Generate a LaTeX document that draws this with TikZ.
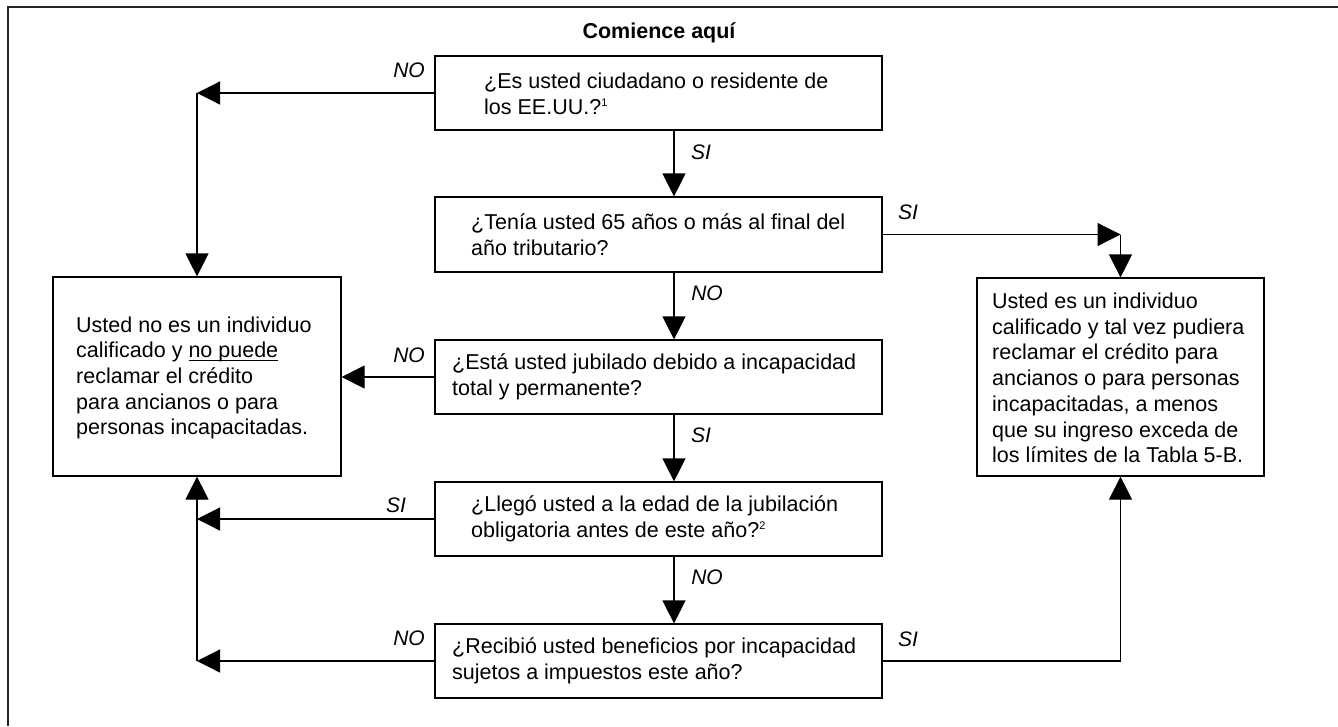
\documentclass[tikz,border=0pt]{standalone}
\usepackage{fontspec}
\setmainfont{Liberation Sans}
\usetikzlibrary{arrows.meta}
\newcommand\myul[1]{\setbox0\hbox{#1}\rlap{\rule[-3.5pt]{\wd0}{1.3pt}}\box0}
\newcommand\mysup[1]{\raisebox{8pt}{\fontsize{11}{11}\selectfont #1}}
\begin{document}
\begin{tikzpicture}[x=1pt,y=-1pt,
  qbox/.style={draw=black, line width=1.2pt, minimum width=447pt, minimum height=74pt, inner sep=0pt},
  endbox/.style={draw=black, line width=1.2pt, minimum width=288pt, minimum height=199pt, inner sep=0pt},
  txt/.style={font=\fontsize{21.5}{25.7}\selectfont, align=left, inner sep=0pt, anchor=west},
  lbl/.style={font=\fontsize{21}{25}\selectfont\itshape, inner sep=0pt},
  conn/.style={line width=1.2pt},
  arr/.style={conn, -{Triangle[length=23pt,width=23pt]}}]
\useasboundingbox (0,0) rectangle (1338,726);
% frame
\draw[line width=1.5pt, black!85] (1338,7) -- (8,7) -- (8,726);
% title
\node[font=\fontsize{21.5}{25}\selectfont\bfseries, inner sep=0pt] (title) at (659,33) {Comience aquí};
% question boxes
\node[qbox] (q1) at (658.5,93) {};
\node[qbox, minimum height=75pt] (q2) at (658.5,234.5) {};
\node[qbox] (q3) at (658.5,377) {};
\node[qbox] (q4) at (658.5,519) {};
\node[qbox] (q5) at (658.5,661) {};
% result boxes
\node[endbox] (L) at (197,376.5) {};
\node[endbox, minimum width=287pt, minimum height=198pt] (R) at (1120.5,377) {};
% texts
\node[txt] (t1) at (484,94) {¿Es usted ciudadano o residente de\\los EE.UU.?\mysup{1}};
\node[txt] (t2) at (471,234.5) {¿Tenía usted 65 años o más al final del\\año tributario?};
\node[txt] (t3) at (452,377) {¿Está usted jubilado debido a incapacidad\\total y permanente?};
\node[txt] (t4) at (471,519) {¿Llegó usted a la edad de la jubilación\\obligatoria antes de este año?\mysup{2}};
\node[txt] (t5) at (452,661) {¿Recibió usted beneficios por incapacidad\\sujetos a impuestos este año?};
\node[txt] (tL) at (76,378) {Usted no es un individuo\\calificado y \myul{no puede}\\reclamar el crédito\\para ancianos o para\\personas incapacitadas.};
\node[txt] (tR) at (992,378) {Usted es un individuo\\calificado y tal vez pudiera\\reclamar el crédito para\\ancianos o para personas\\incapacitadas, a menos\\que su ingreso exceda de\\los límites de la Tabla 5-B.};
% helper coordinates
\coordinate (cx) at (674,0);
\coordinate (c1) at (q1.west -| L.north);
\coordinate (c2) at (q2.east -| R.north);
\coordinate (c4) at (q4.west -| L.south);
\coordinate (c5) at (q5.west -| L.south);
\coordinate (c6) at (q5.east -| R.south);
% central connectors
\draw[arr] (q1.south -| cx) -- (q2.north -| cx);
\draw[arr] (q2.south -| cx) -- (q3.north -| cx);
\draw[arr] (q3.south -| cx) -- (q4.north -| cx);
\draw[arr] (q4.south -| cx) -- (q5.north -| cx);
% left connectors
\draw[arr] (q1.west) -- (c1);
\draw[arr] (c1) -- (L.north);
\draw[arr] (q3.west) -- (q3.west -| L.east);
\draw[arr] (q4.west) -- (c4);
\draw[arr] (q5.west) -- (c5);
\draw[arr] (c5) -- (L.south);
% right connectors
\draw[arr] (q2.east) -- (c2);
\draw[arr] (c2) -- (R.north);
\draw[conn] (q5.east) -- (c6);
\draw[arr] (c6) -- (R.south);
% labels
\node[lbl] (l1) at (409,70) {NO};
\node[lbl] (l2) at (701,152) {SI};
\node[lbl] (l3) at (908,212) {SI};
\node[lbl] (l4) at (707,293) {NO};
\node[lbl] (l5) at (409,355) {NO};
\node[lbl] (l6) at (701,435) {SI};
\node[lbl] (l7) at (396,505) {SI};
\node[lbl] (l8) at (707,577) {NO};
\node[lbl] (l9) at (409,638) {NO};
\node[lbl] (l10) at (908,639) {SI};
\end{tikzpicture}
\end{document}
